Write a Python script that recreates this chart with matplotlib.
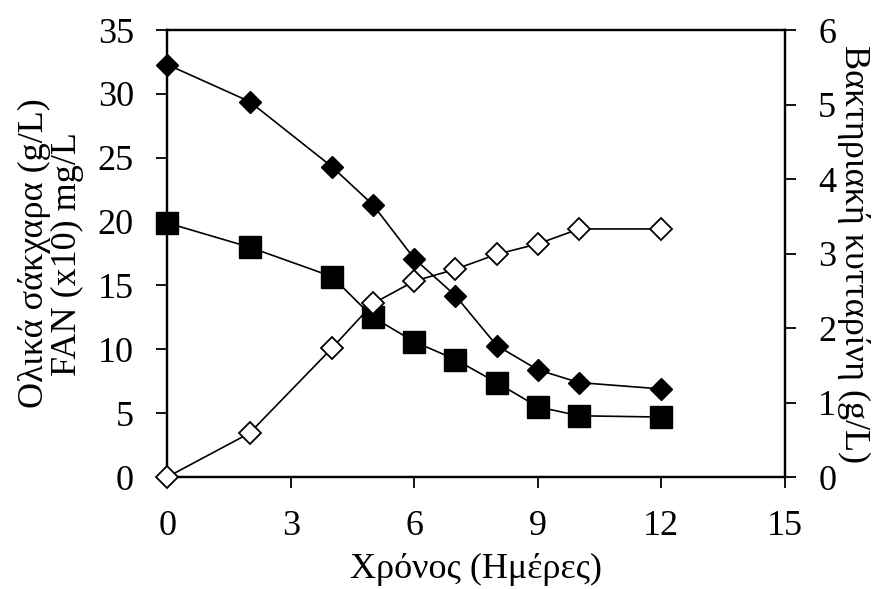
import matplotlib
matplotlib.use("Agg")
import matplotlib.pyplot as plt

plt.rcParams['font.family'] = ['Liberation Serif', 'DejaVu Serif']

days = [0, 2, 4, 5, 6, 7, 8, 9, 10, 12]
sugars = [32.3, 29.4, 24.3, 21.3, 17.1, 14.2, 10.3, 8.4, 7.4, 6.9]
fan = [19.9, 18.0, 15.7, 12.5, 10.6, 9.2, 7.4, 5.5, 4.8, 4.7]
cellulose = [0.0, 0.59, 1.73, 2.33, 2.63, 2.79, 2.99, 3.13, 3.33, 3.33]

xticks = [0, 3, 6, 9, 12, 15]
yticks_left = [0, 5, 10, 15, 20, 25, 30, 35]
yticks_right = [0, 1, 2, 3, 4, 5, 6]

fig = plt.figure(figsize=(8.8, 5.89), dpi=100)
ax = fig.add_axes([0.19, 0.19, 0.702, 0.759])
ax2 = ax.twinx()

lw = 1.2
ax.plot(days, sugars, color='black', lw=lw, marker='D', markersize=11.5,
        markerfacecolor='black', markeredgecolor='black', zorder=3, clip_on=False)
ax.plot(days, fan, color='black', lw=lw, marker='s', markersize=16,
        markerfacecolor='black', markeredgecolor='black', zorder=3, clip_on=False)
ax2.plot(days, cellulose, color='black', lw=lw, marker='D', markersize=11.5,
         markerfacecolor='white', markeredgecolor='black', markeredgewidth=1.3,
         zorder=3, clip_on=False)

ax.set_xlim(0, 15)
ax.set_ylim(0, 35)
ax2.set_ylim(0, 6)
ax.set_xticks(xticks)
ax.set_yticks(yticks_left)
ax2.set_yticks(yticks_right)

fs = 26
for a in (ax, ax2):
    a.tick_params(direction='out', length=8, width=1.3, labelsize=fs, pad=16)
    for s in a.spines.values():
        s.set_linewidth(1.6)

ax.set_xlabel('Χρόνος (Ημέρες)', fontsize=fs, labelpad=7)
ax.set_ylabel('Ολικά σάκχαρα (g/L)\nFAN (x10) mg/L', fontsize=fs, labelpad=10,
              linespacing=1.0)
ax2.set_ylabel('Βακτηριακή κυτταρίνη (g/L)', fontsize=fs, rotation=-90,
               labelpad=24)

fig.savefig('out.png', dpi=100)
